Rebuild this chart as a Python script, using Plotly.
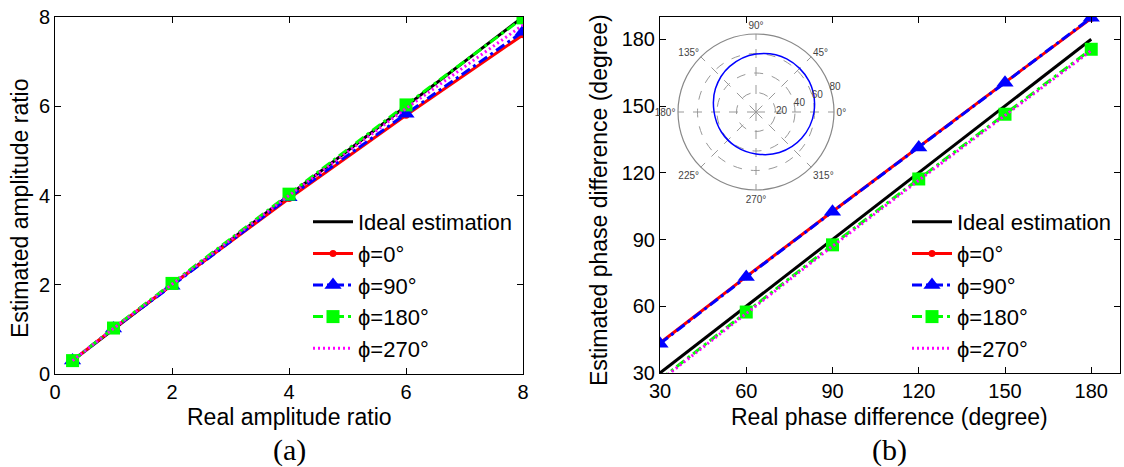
import plotly.graph_objects as go

W, H = 1124, 467

# ---------------- data: panel (a) ----------------
amp_x = [0.3, 1, 2, 4, 6, 8]
amp_ideal_x = [0.3, 8]
amp_ideal_y = [0.3, 8]
amp_phi0 = [0.3, 1.02, 2.0, 3.93, 5.80, 7.60]
amp_phi90 = [0.3, 1.02, 1.98, 3.96, 5.83, 7.67]
amp_phi180 = [0.3, 1.03, 2.03, 4.03, 6.03, 7.98]
amp_phi270 = [0.3, 1.02, 2.01, 4.00, 5.95, 7.82]

# ---------------- data: panel (b) ----------------
ph_x = [30, 60, 90, 120, 150, 180]
ph_ideal_x = [30, 180]
ph_ideal_y = [30, 180]
ph_phi0 = [43.5, 73.3, 102.6, 131.8, 160.6, 189.4]
ph_phi90 = [43.2, 73.1, 102.5, 131.4, 160.5, 189.7]
ph_phi180 = [27.0, 57.4, 87.6, 117.2, 146.3, 175.5]
ph_phi270 = [26.5, 56.8, 87.0, 116.6, 145.8, 174.9]

# ---------------- data: polar inset ----------------
pol_theta = [0, 30, 60, 90, 120, 150, 180, 210, 240, 270, 300, 330, 360]
pol_r = [59.5, 63, 63, 59.5, 54, 48, 43, 41, 41, 43, 48, 54, 59.5]
pol_ang_ticks = [0, 45, 90, 135, 180, 225, 270, 315]
pol_rad_ticks = [20, 40, 60, 80]

legend_names = ["Ideal estimation", "ϕ=0°", "ϕ=90°", "ϕ=180°", "ϕ=270°"]

FONT = "Liberation Sans, Arial, sans-serif"
SERIF = "Liberation Serif, Times New Roman, serif"

def px(x):
    return x / W

def py(y):
    return (H - y) / H

styles = [
    dict(line=dict(color="black", width=3), mode="lines"),
    dict(line=dict(color="#FF0000", width=3), mode="lines+markers",
         marker=dict(symbol="circle", size=7, color="#FF0000")),
    dict(line=dict(color="#0000FF", width=3, dash="10px,4px,3px,4px"), mode="lines+markers",
         marker=dict(symbol="triangle-up", size=15, color="#0000FF")),
    dict(line=dict(color="#00FF00", width=3, dash="10px,4px,3px,4px"), mode="lines+markers",
         marker=dict(symbol="square", size=13, color="#00FF00")),
    dict(line=dict(color="#FF00FF", width=3, dash="2px,3px"), mode="lines"),
]

fig = go.Figure()

a_series = [(amp_ideal_x, amp_ideal_y), (amp_x, amp_phi0), (amp_x, amp_phi90),
            (amp_x, amp_phi180), (amp_x, amp_phi270)]
b_series = [(ph_ideal_x, ph_ideal_y), (ph_x, ph_phi0), (ph_x, ph_phi90),
            (ph_x, ph_phi180), (ph_x, ph_phi270)]

for i, ((xs, ys), st) in enumerate(zip(a_series, styles)):
    fig.add_trace(go.Scatter(x=xs, y=ys, name=legend_names[i], xaxis="x", yaxis="y",
                             legend="legend", legendgroup=f"a{i}", **st))
for i, ((xs, ys), st) in enumerate(zip(b_series, styles)):
    fig.add_trace(go.Scatter(x=xs, y=ys, name=legend_names[i], xaxis="x2", yaxis="y2",
                             legend="legend2", legendgroup=f"b{i}", **st))

fig.add_trace(go.Scatterpolar(theta=pol_theta, r=pol_r, mode="lines",
                              line=dict(color="#0000FF", width=1.5, shape="spline"),
                              showlegend=False, subplot="polar"))

axis_common = dict(showgrid=False, zeroline=False, showline=True, linecolor="black",
                   linewidth=1, mirror="ticks", ticks="inside", ticklen=6,
                   tickcolor="black", tickfont=dict(family=FONT, size=20, color="black"))

legend_common = dict(font=dict(family=FONT, size=22, color="black"),
                     bgcolor="rgba(255,255,255,0)", borderwidth=0,
                     tracegroupgap=0, itemwidth=40, xanchor="left", yanchor="top",
                     traceorder="grouped")

def ann(text, x, y, size=23, family=FONT, angle=0):
    return dict(text=text, x=px(x), y=py(y), xref="paper", yref="paper",
                xanchor="center", yanchor="middle", textangle=angle, showarrow=False,
                font=dict(family=family, size=size, color="black"))

fig.update_layout(
    width=W, height=H, margin=dict(l=0, r=0, t=0, b=0, autoexpand=False),
    paper_bgcolor="white", plot_bgcolor="white",
    xaxis=dict(domain=[px(55), px(523)], range=[0, 8], tickvals=[0, 2, 4, 6, 8],
               anchor="y", **axis_common),
    yaxis=dict(domain=[py(374), py(17)], range=[0, 8], tickvals=[0, 2, 4, 6, 8],
               anchor="x", **axis_common),
    xaxis2=dict(domain=[px(660), px(1120)], range=[30, 190],
                tickvals=[30, 60, 90, 120, 150, 180], anchor="y2", **axis_common),
    yaxis2=dict(domain=[py(373), py(17)], range=[30, 190],
                tickvals=[30, 60, 90, 120, 150, 180], anchor="x2", **axis_common),
    legend=dict(x=px(308), y=py(201), **legend_common),
    legend2=dict(x=px(907), y=py(201), **legend_common),
    polar=dict(
        domain=dict(x=[px(678), px(834)], y=[py(190), py(34)]),
        bgcolor="rgba(255,255,255,0)",
        radialaxis=dict(range=[0, 80], tickvals=pol_rad_ticks, angle=24, tickangle=24,
                        showline=False, ticks="", gridcolor="#999999", griddash="dash",
                        tickfont=dict(family=FONT, size=10, color="#444444")),
        angularaxis=dict(tickvals=pol_ang_ticks,
                         ticktext=[f"{t}°" for t in pol_ang_ticks],
                         direction="counterclockwise", rotation=0,
                         gridcolor="#999999", griddash="dash", linecolor="#888888",
                         linewidth=1.2, ticks="",
                         tickfont=dict(family=FONT, size=10, color="#444444")),
    ),
    annotations=[
        ann("Real amplitude ratio", 289, 417),
        ann("Real phase difference (degree)", 890, 417),
        ann("Estimated amplitude ratio", 20, 208, angle=-90),
        ann("Estimated phase difference (degree)", 599, 200, angle=-90),
        ann("(a)", 289, 450, size=30, family=SERIF),
        ann("(b)", 890, 450, size=30, family=SERIF),
    ],
)

fig.write_html("out.html")
